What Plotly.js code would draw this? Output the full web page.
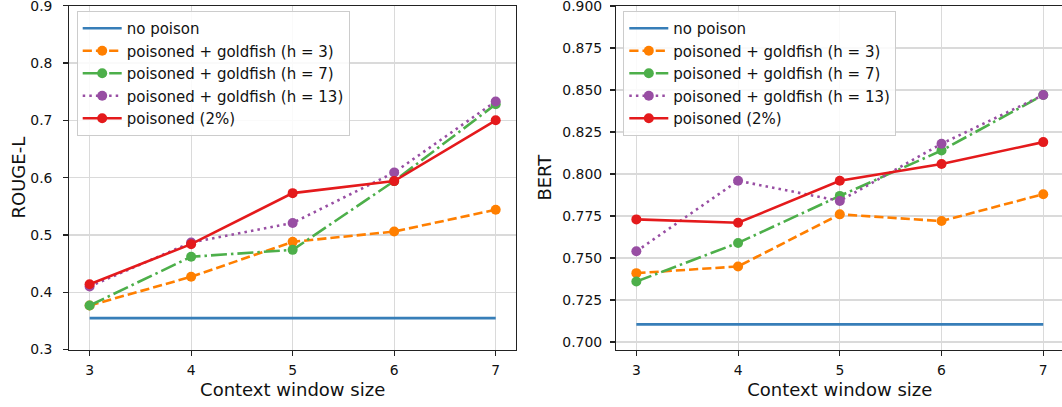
<!DOCTYPE html>
<html><head><meta charset="utf-8">
<script src="https://cdn.plot.ly/plotly-3.0.1.min.js"></script>
<style>html,body{margin:0;padding:0;overflow:hidden;background:#fff}</style>
</head><body><div id="chart"></div>
<script>
// ---- data ----
const contextWindow = [3, 4, 5, 6, 7];
const seriesNames = ['no poison', 'poisoned + goldfish (h = 3)', 'poisoned + goldfish (h = 7)', 'poisoned + goldfish (h = 13)', 'poisoned (2%)'];

const rougeNoPoison = [0.355, 0.355, 0.355, 0.355, 0.355];
const rougeH3 = [0.377, 0.427, 0.488, 0.506, 0.544];
const rougeH7 = [0.377, 0.462, 0.474, 0.594, 0.728];
const rougeH13 = [0.410, 0.487, 0.521, 0.609, 0.733];
const rougePoisoned = [0.414, 0.484, 0.573, 0.594, 0.700];

const bertNoPoison = [0.7105, 0.7105, 0.7105, 0.7105, 0.7105];
const bertH3 = [0.741, 0.745, 0.776, 0.772, 0.788];
const bertH7 = [0.736, 0.759, 0.787, 0.814, 0.847];
const bertH13 = [0.754, 0.796, 0.784, 0.818, 0.847];
const bertPoisoned = [0.773, 0.771, 0.796, 0.806, 0.819];

const rougeTicks = [0.3, 0.4, 0.5, 0.6, 0.7, 0.8, 0.9];
const bertTicks = [0.700, 0.725, 0.750, 0.775, 0.800, 0.825, 0.850, 0.875, 0.900];

// ---- styles ----
const colors = ['#377eb8', '#ff7f00', '#4daf4a', '#984ea3', '#e41a1c'];
const dashes = ['solid', '9.2px,4px', '16px,4px,2.5px,4px', '2.5px,4.1px', 'solid'];
const LW = 2.6, MS = 10;
const W = 1066, H = 407;
const FONT = 'DejaVu Sans, sans-serif';

function makeTraces(seriesList, xa, ya, legendId) {
  return seriesList.map((vals, i) => ({
    type: 'scatter',
    x: contextWindow,
    y: vals,
    name: seriesNames[i],
    mode: i === 0 ? 'lines' : 'lines+markers',
    line: {color: colors[i], width: LW, dash: dashes[i]},
    marker: {color: colors[i], size: MS},
    xaxis: xa, yaxis: ya,
    legend: legendId,
    showlegend: true
  }));
}

const data = [
  ...makeTraces([rougeNoPoison, rougeH3, rougeH7, rougeH13, rougePoisoned], 'x', 'y', 'legend'),
  ...makeTraces([bertNoPoison, bertH3, bertH7, bertH13, bertPoisoned], 'x2', 'y2', 'legend2')
];

const yDom = [(H - 349.6) / H, (H - 5.7) / H];
const axCommon = {
  showline: true, mirror: true, linecolor: '#222', linewidth: 1.1,
  ticks: 'outside', ticklen: 5, tickwidth: 1.1, tickcolor: '#222',
  showgrid: true, gridcolor: '#dadada', gridwidth: 1.1, zeroline: false,
  ticklabeloverflow: 'allow',
  tickfont: {family: FONT, size: 13.9, color: '#111'}
};
const legCommon = {
  bgcolor: 'rgba(255,255,255,0.85)', bordercolor: '#cccccc', borderwidth: 1,
  font: {family: FONT, size: 15, color: '#111'},
  xanchor: 'left', yanchor: 'top', tracegroupgap: 0, itemwidth: 39
};

const layout = {
  width: W, height: H,
  margin: {l: 0, r: 0, t: 0, b: 0},
  paper_bgcolor: '#fff', plot_bgcolor: '#fff',
  font: {family: FONT, color: '#111'},
  xaxis: Object.assign({}, axCommon, {
    domain: [69.3 / W, 516 / W], anchor: 'y', range: [2.8, 7.2],
    tickvals: contextWindow, ticktext: contextWindow.map(String),
    title: {text: 'Context window size', font: {family: FONT, size: 18, color: '#111'}, standoff: 6},
    ticklabelstandoff: 3
  }),
  yaxis: Object.assign({}, axCommon, {
    domain: yDom, anchor: 'x', range: [0.3, 0.9],
    tickvals: rougeTicks, ticktext: rougeTicks.map(v => v.toFixed(1)),
    title: {text: 'ROUGE-L', font: {family: FONT, size: 18, color: '#111'}, standoff: 0},
    ticklabelstandoff: 8
  }),
  xaxis2: Object.assign({}, axCommon, {
    domain: [616 / W, 1063.6 / W], anchor: 'y2', range: [2.8, 7.2],
    tickvals: contextWindow, ticktext: contextWindow.map(String),
    title: {text: 'Context window size', font: {family: FONT, size: 18, color: '#111'}, standoff: 6},
    ticklabelstandoff: 3
  }),
  yaxis2: Object.assign({}, axCommon, {
    domain: yDom, anchor: 'x2', range: [0.6955, 0.9002],
    tickvals: bertTicks, ticktext: bertTicks.map(v => v.toFixed(3)),
    title: {text: 'BERT', font: {family: FONT, size: 18, color: '#111'}, standoff: 6},
    ticklabelstandoff: 5
  }),
  legend: Object.assign({}, legCommon, {x: 76.7 / W, y: 1 - 11 / H}),
  legend2: Object.assign({}, legCommon, {x: 623.3 / W, y: 1 - 11 / H})
};

Plotly.newPlot('chart', data, layout, {staticPlot: true, displayModeBar: false});
</script>
</body></html>
